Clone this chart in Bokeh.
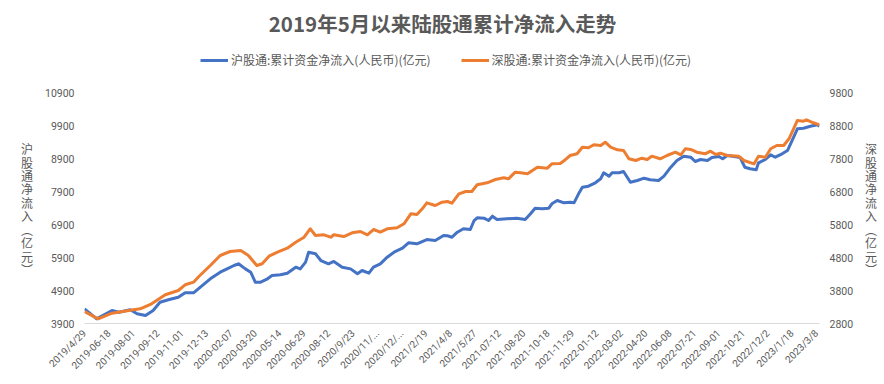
from bokeh.plotting import figure
from bokeh.models import Range1d, LinearAxis, FixedTicker, Legend, LegendItem, Label
from bokeh.embed import file_html
from bokeh.resources import INLINE

title = "2019年5月以来陆股通累计净流入走势"
sh_name = "沪股通:累计资金净流入(人民币)(亿元)"
sz_name = "深股通:累计资金净流入(人民币)(亿元)"
left_title = "沪股通净流入︵亿元︶"
right_title = "深股通净流入︵亿元︶"

tick_labels = ["2019/4/29", "2019-06-18", "2019-08-01", "2019-09-12", "2019-11-01",
               "2019-12-13", "2020-02-07", "2020-03-20", "2020-05-14", "2020-06-29",
               "2020-08-12", "2020/9/23", "2020/11/...", "2020/12/...", "2021/2/19",
               "2021/4/8", "2021/5/27", "2021-07-12", "2021-08-20", "2021-10-18",
               "2021-11-29", "2022-01-12", "2022-03-02", "2022-04-20", "2022-06-08",
               "2022-07-21", "2022-09-01", "2022-10-21", "2022/12/2", "2023/1/18",
               "2023/3/8"]
# trading-day index of each labelled category (label every 32 trading days)
tick_days = [0, 32, 64, 96, 128, 160, 192, 224, 256, 288, 320, 352, 384, 416, 448,
             480, 512, 544, 576, 608, 640, 672, 704, 736, 768, 800, 832, 864, 896,
             928, 960]
last_day = 964

left_ticks = [3900, 4900, 5900, 6900, 7900, 8900, 9900, 10900]
right_ticks = [2800, 3800, 4800, 5800, 6800, 7800, 8800, 9800]

# 沪股通 cumulative net inflow (left axis)
sh_day = [0, 16, 36, 45, 60, 69, 80, 90, 99, 110, 123, 132, 143, 152, 165, 178, 187,
          196, 202, 211, 218, 224, 231, 240, 246, 257, 266, 277, 283, 290, 294, 303,
          310, 320, 327, 338, 349, 358, 364, 373, 379, 388, 397, 406, 417, 425, 436,
          449, 460, 471, 476, 482, 489, 497, 506, 511, 515, 524, 530, 535, 541, 554,
          567, 578, 585, 591, 600, 609, 613, 620, 629, 637, 642, 648, 653, 661, 670,
          677, 681, 688, 692, 701, 707, 716, 725, 734, 742, 753, 760, 769, 777, 786,
          795, 801, 808, 817, 823, 832, 837, 843, 852, 860, 866, 873, 881, 884, 893,
          900, 906, 915, 922, 928, 935, 943, 952, 961, 964]
sh_val = [4345, 4042, 4294, 4242, 4315, 4194, 4142, 4294, 4545, 4618, 4697, 4830, 4830,
          5000, 5254, 5455, 5557, 5658, 5709, 5555, 5455, 5152, 5152, 5254, 5355, 5375,
          5425, 5606, 5555, 5758, 6061, 6012, 5809, 5709, 5779, 5606, 5555, 5406, 5506,
          5425, 5606, 5709, 5909, 6061, 6182, 6345, 6315, 6445, 6415, 6567, 6560, 6515,
          6667, 6770, 6748, 7021, 7103, 7092, 7021, 7152, 7052, 7072, 7092, 7052, 7224,
          7394, 7376, 7394, 7527, 7627, 7557, 7576, 7557, 7830, 8030, 8061, 8164, 8285,
          8467, 8364, 8467, 8467, 8506, 8182, 8233, 8303, 8254, 8233, 8364, 8636, 8839,
          8970, 8939, 8809, 8870, 8839, 8930, 8961, 8891, 8991, 8961, 8930, 8636, 8588,
          8558, 8770, 8870, 9012, 8939, 9042, 9142, 9445, 9800, 9818, 9879, 9921, 9879]

# 深股通 cumulative net inflow (right axis)
sz_day = [0, 18, 36, 58, 73, 88, 106, 123, 132, 143, 150, 165, 178, 191, 205, 215, 226,
          233, 242, 253, 266, 277, 288, 296, 303, 314, 323, 327, 340, 351, 362, 371, 379,
          388, 397, 410, 419, 428, 436, 443, 449, 460, 469, 476, 482, 491, 500, 508, 515,
          528, 539, 550, 556, 565, 572, 581, 594, 607, 613, 624, 631, 637, 646, 653, 661,
          668, 677, 683, 690, 699, 707, 714, 723, 731, 738, 744, 755, 764, 775, 782, 788,
          795, 803, 814, 821, 828, 834, 843, 858, 865, 878, 884, 893, 900, 908, 917, 924,
          930, 935, 943, 947, 956, 964]
sz_val = [3164, 2942, 3112, 3194, 3245, 3397, 3670, 3800, 3973, 4052, 4224, 4558, 4861,
          4982, 5012, 4861, 4558, 4609, 4839, 4961, 5082, 5264, 5415, 5670, 5467, 5488,
          5415, 5488, 5436, 5548, 5588, 5488, 5648, 5567, 5670, 5700, 5821, 6124, 6103,
          6276, 6457, 6376, 6476, 6497, 6446, 6730, 6800, 6800, 7003, 7064, 7164, 7215,
          7185, 7385, 7367, 7336, 7536, 7506, 7639, 7650, 7770, 7891, 7942, 8142, 8124,
          8215, 8194, 8294, 8142, 8064, 8042, 7791, 7739, 7809, 7770, 7870, 7791, 7891,
          7991, 7912, 8094, 8073, 7991, 7942, 8021, 7921, 7961, 7891, 7870, 7739, 7636,
          7870, 7839, 8094, 8194, 8194, 8397, 8700, 8952, 8930, 8973, 8882, 8821]

BLUE = "#4472C4"
ORANGE = "#ED7D31"
TXT = "#595959"
CJK = "Noto Sans CJK SC"

FRAME_H = 323      # plot frame also holds title and legend rows on top
PLOT_H = 231       # pixel height of the 7000-unit value band
span = left_ticks[-1] - left_ticks[0]
top_extra = span * (FRAME_H - PLOT_H) / PLOT_H

p = figure(frame_width=735, frame_height=FRAME_H, output_backend="svg",
           toolbar_location=None, title=None,
           x_range=Range1d(0, last_day),
           y_range=Range1d(left_ticks[0], left_ticks[-1] + top_extra),
           min_border_left=84, min_border_right=65, min_border_top=0,
           min_border_bottom=61)
p.extra_y_ranges = {"sz": Range1d(right_ticks[0], right_ticks[-1] + top_extra)}
p.outline_line_color = None
p.background_fill_color = "white"
p.border_fill_color = "white"
p.xgrid.visible = False
p.ygrid.visible = False

r1 = p.line(sh_day, sh_val, color=BLUE, line_width=3, line_join="round")
r2 = p.line(sz_day, sz_val, color=ORANGE, line_width=3, line_join="round",
            y_range_name="sz")

xa = p.xaxis[0]
xa.ticker = FixedTicker(ticks=tick_days)
xa.major_label_overrides = {d: t for d, t in zip(tick_days, tick_labels)}
xa.major_label_orientation = 0.785398
xa.axis_line_color = "#d9d9d9"
xa.axis_line_width = 1
xa.major_tick_line_color = None
xa.minor_tick_line_color = None
xa.major_tick_out = 0
xa.major_tick_in = 0
xa.major_label_text_font = "Roboto"
xa.major_label_text_font_size = "10px"
xa.major_label_text_color = TXT
xa.major_label_standoff = 8

pad = "\u3000\n" * 7


def style_y(ax, label):
    ax.axis_line_color = None
    ax.major_tick_line_color = None
    ax.minor_tick_line_color = None
    ax.major_tick_out = 0
    ax.major_tick_in = 0
    ax.major_label_text_font = "Roboto"
    ax.major_label_text_font_size = "10.5px"
    ax.major_label_text_color = TXT
    ax.major_label_standoff = 10
    ax.axis_label = pad + "\n".join(label)
    ax.axis_label_orientation = "horizontal"
    ax.axis_label_text_font = CJK
    ax.axis_label_text_font_size = "12px"
    ax.axis_label_text_font_style = "normal"
    ax.axis_label_text_color = TXT
    ax.axis_label_text_line_height = 0.79
    ax.axis_label_standoff = 9


ya = p.yaxis[0]
ya.ticker = FixedTicker(ticks=left_ticks)
style_y(ya, left_title)

ra = LinearAxis(y_range_name="sz", ticker=FixedTicker(ticks=right_ticks))
style_y(ra, right_title)
p.add_layout(ra, "right")

legend = Legend(items=[LegendItem(label=sh_name, renderers=[r1]),
                       LegendItem(label=sz_name, renderers=[r2])],
                location=(116, 255), orientation="horizontal",
                padding=0, margin=0, spacing=30, glyph_width=28, glyph_height=16,
                label_height=16, label_standoff=3, label_text_font=CJK,
                label_text_font_size="12px", label_text_color=TXT,
                background_fill_alpha=0, border_line_color=None)
p.add_layout(legend)

p.add_layout(Label(x=358, y=301, x_units="screen", y_units="screen", text=title,
                   text_align="center", text_baseline="middle", text_font=CJK,
                   text_font_style="bold", text_font_size="20.5px", text_color=TXT))

open("out.html", "w").write(file_html(p, INLINE))
